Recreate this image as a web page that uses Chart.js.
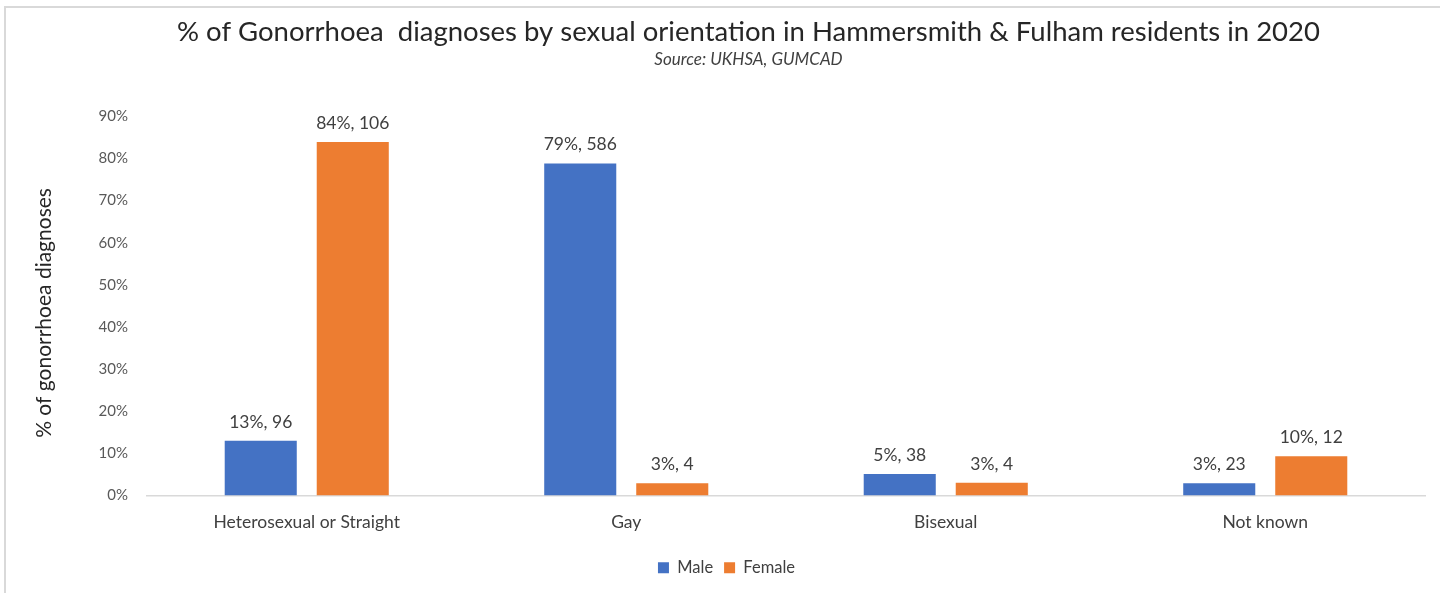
<!DOCTYPE html>
<html>
<head>
<meta charset="utf-8">
<script src="https://cdn.jsdelivr.net/npm/chart.js@4"></script>
<style>
  html, body { margin: 0; padding: 0; background: #fff; }
  #wrap { width: 1440px; height: 593px; position: relative; }
</style>
</head>
<body>
<div id="wrap"><canvas id="c" width="1440" height="593"></canvas></div>
<script>
const categories = ["Heterosexual or Straight", "Gay", "Bisexual", "Not known"];
const malePct = [13, 78.8, 5.1, 2.9];
const femalePct = [83.9, 2.9, 3.0, 9.3];
const malePctLabels = ["13%", "79%", "5%", "3%"];
const femalePctLabels = ["84%", "3%", "3%", "10%"];
const maleCounts = [96, 586, 38, 23];
const femaleCounts = [106, 4, 4, 12];
const yTicks = [0, 10, 20, 30, 40, 50, 60, 70, 80, 90];

const FONT = "Lato, 'Open Sans', sans-serif";

const frame = {
  id: 'frame',
  beforeDraw(chart) {
    const ctx = chart.ctx;
    ctx.save();
    ctx.strokeStyle = '#d9d9d9';
    ctx.lineWidth = 2;
    ctx.beginPath();
    ctx.moveTo(5, 593);
    ctx.lineTo(5, 7);
    ctx.lineTo(1440, 7);
    ctx.stroke();
    ctx.restore();
    // nudge the y-axis title slightly downward, as in the reference
    const s = chart.scales.y;
    if (s && !s._titleNudged) {
      const orig = s.drawTitle.bind(s);
      s.drawTitle = function () {
        this.ctx.save();
        this.ctx.translate(0, 7);
        orig();
        this.ctx.restore();
      };
      s._titleNudged = true;
    }
  }
};

// shift the title and subtitle boxes to the right, as in the reference
const titleShift = {
  id: 'titleShift',
  afterLayout(chart) {
    chart.boxes.forEach(b => {
      if (b.position === 'top' && b.options && typeof b.options.text === 'string') {
        b.left += 22;
        b.right += 22;
      }
    });
  }
};

const barLabels = {
  id: 'barLabels',
  afterDatasetsDraw(chart) {
    const ctx = chart.ctx;
    ctx.save();
    ctx.font = "17.5px " + FONT;
    ctx.fillStyle = '#404040';
    ctx.textAlign = 'center';
    ctx.textBaseline = 'bottom';
    const sets = [[malePctLabels, maleCounts], [femalePctLabels, femaleCounts]];
    chart.data.datasets.forEach((ds, di) => {
      const meta = chart.getDatasetMeta(di);
      meta.data.forEach((el, i) => {
        const txt = sets[di][0][i] + ", " + sets[di][1][i];
        ctx.fillText(txt, el.x, el.y - 10);
      });
    });
    ctx.restore();
  }
};

new Chart(document.getElementById('c'), {
  type: 'bar',
  data: {
    labels: categories,
    datasets: [
      { label: 'Male', data: malePct, backgroundColor: '#4472C4', borderWidth: 0,
        categoryPercentage: 0.576, barPercentage: 0.783 },
      { label: 'Female', data: femalePct, backgroundColor: '#ED7D31', borderWidth: 0,
        categoryPercentage: 0.576, barPercentage: 0.783 }
    ]
  },
  options: {
    responsive: false,
    animation: false,
    devicePixelRatio: 1,
    layout: { padding: { left: 28, right: 15, top: 10, bottom: 7 } },
    plugins: {
      title: {
        display: true,
        text: '% of Gonorrhoea  diagnoses by sexual orientation in Hammersmith & Fulham residents in 2020',
        color: '#262626',
        font: { family: FONT, size: 27.5, weight: 'normal' },
        padding: { top: 6, bottom: 0 }
      },
      subtitle: {
        display: true,
        text: 'Source: UKHSA, GUMCAD',
        color: '#404040',
        font: { family: FONT, size: 17, style: 'italic', weight: 'normal' },
        padding: { top: 0, bottom: 47 }
      },
      legend: {
        position: 'bottom',
        labels: {
          color: '#404040',
          font: { family: FONT, size: 16.5 },
          boxWidth: 11, boxHeight: 11,
          padding: 11
        }
      },
      tooltip: { enabled: false }
    },
    scales: {
      x: {
        grid: { display: true, drawOnChartArea: false, drawTicks: false, color: 'rgba(0,0,0,0)' },
        border: { display: true, color: '#d9d9d9', width: 1.5 },
        ticks: { color: '#404040', font: { family: FONT, size: 17.5 }, padding: 16 }
      },
      y: {
        min: 0, max: 90,
        afterBuildTicks(scale) { scale.ticks = yTicks.map(v => ({ value: v })); },
        afterFit(scale) { scale.width = 119; },
        grid: { display: false, drawTicks: false },
        border: { display: false },
        ticks: { color: '#595959', font: { family: FONT, size: 15 }, padding: 19,
                 callback: v => v + '%' },
        title: { display: true, text: '% of gonorrhoea diagnoses', color: '#262626',
                 font: { family: FONT, size: 21 }, padding: { top: 4, bottom: 0 } }
      }
    }
  },
  plugins: [frame, titleShift, barLabels]
});
</script>
</body>
</html>
